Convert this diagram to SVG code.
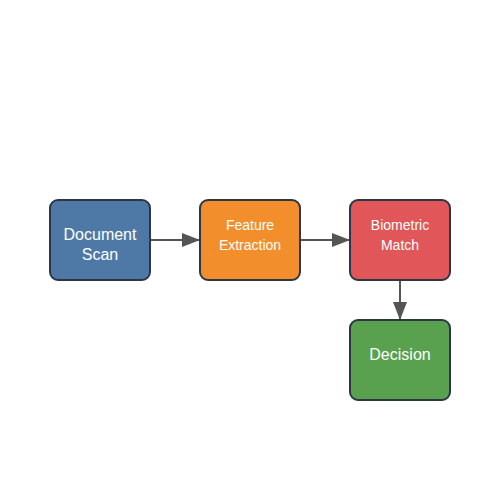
<svg xmlns="http://www.w3.org/2000/svg" width="500" height="500" viewBox="0 0 500 500">
<defs>
<marker id="ah" markerWidth="18" markerHeight="14" refX="18" refY="7" orient="auto" markerUnits="userSpaceOnUse">
<path d="M0,0 L18,7 L0,14 Z" fill="#555"/>
</marker>
<style>
.box{stroke:#2b3648;stroke-width:2}
.t{font-family:"Liberation Sans",Arial,sans-serif;fill:#fff;text-anchor:middle}
.c{stroke:#555;stroke-width:2;fill:none}
</style>
</defs>
<rect width="500" height="500" fill="#fff"/>
<g id="connectors">
<line class="c" x1="150" y1="240" x2="200" y2="240" marker-end="url(#ah)"/>
<line class="c" x1="300" y1="240" x2="350" y2="240" marker-end="url(#ah)"/>
<line class="c" x1="400" y1="280" x2="400" y2="320" marker-end="url(#ah)"/>
</g>
<g id="document-scan">
<rect class="box" x="50" y="200" width="100" height="80" rx="8" fill="#4e79a7"/>
<text class="t" x="100" y="240" font-size="16">Document</text>
<text class="t" x="100" y="260" font-size="16">Scan</text>
</g>
<g id="feature-extraction">
<rect class="box" x="200" y="200" width="100" height="80" rx="8" fill="#f28e2b"/>
<text class="t" x="250" y="230" font-size="14">Feature</text>
<text class="t" x="250" y="250" font-size="14">Extraction</text>
</g>
<g id="biometric-match">
<rect class="box" x="350" y="200" width="100" height="80" rx="8" fill="#e15759"/>
<text class="t" x="400" y="230" font-size="14">Biometric</text>
<text class="t" x="400" y="250" font-size="14">Match</text>
</g>
<g id="decision">
<rect class="box" x="350" y="320" width="100" height="80" rx="8" fill="#59a14f"/>
<text class="t" x="400" y="360" font-size="16">Decision</text>
</g>
</svg>
